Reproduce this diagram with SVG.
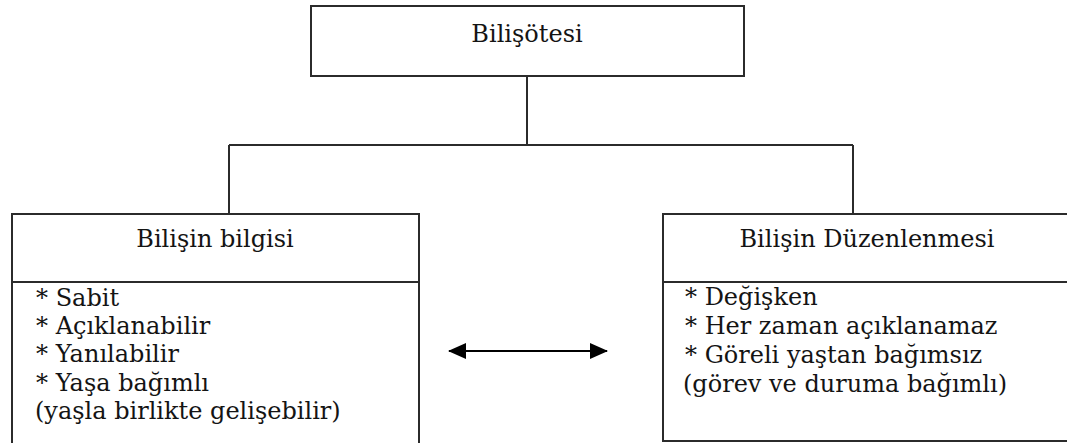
<svg xmlns="http://www.w3.org/2000/svg" width="1067" height="443" viewBox="0 0 1067 443">
<style>
.box{fill:#fff;stroke:#2b2b2b;stroke-width:2}
.ln{fill:none;stroke:#2b2b2b;stroke-width:2}
text{font-family:'DejaVu Serif',serif;font-size:24px;fill:#141414}
.c{text-anchor:middle}
</style>
<defs>
<marker id="ah" viewBox="0 0 18 16" refX="17" refY="8" markerWidth="18" markerHeight="16" markerUnits="userSpaceOnUse" orient="auto-start-reverse">
<path d="M0,0 L18,8 L0,16 Z" fill="#000"/>
</marker>
</defs>
<rect width="1067" height="443" fill="#fff"/>
<g id="connectors">
<path class="ln" d="M527,76 V145 M229,145 H853 M229,145 V214 M853,145 V214"/>
<line x1="449" y1="351" x2="607" y2="351" stroke="#000" stroke-width="2" marker-start="url(#ah)" marker-end="url(#ah)"/>
</g>
<g id="node-top">
<rect class="box" x="311" y="6" width="433" height="70"/>
<text class="c" x="527" y="42">Bilişötesi</text>
</g>
<g id="node-left">
<path class="box" d="M12,450 V214 H419 V450"/>
<line class="ln" x1="12" y1="282" x2="419" y2="282"/>
<text class="c" x="215" y="247">Bilişin bilgisi</text>
<text x="36" y="306">* Sabit</text>
<text x="36" y="334">* Açıklanabilir</text>
<text x="36" y="362">* Yanılabilir</text>
<text x="36" y="391">* Yaşa bağımlı</text>
<text x="35" y="419">(yaşla birlikte gelişebilir)</text>
</g>
<g id="node-right">
<rect class="box" x="663" y="214" width="412" height="227"/>
<line class="ln" x1="663" y1="282" x2="1075" y2="282"/>
<text class="c" x="867" y="247">Bilişin Düzenlenmesi</text>
<text x="685" y="305">* Değişken</text>
<text x="685" y="334">* Her zaman açıklanamaz</text>
<text x="685" y="363">* Göreli yaştan bağımsız</text>
<text x="683" y="392">(görev ve duruma bağımlı)</text>
</g>
</svg>
